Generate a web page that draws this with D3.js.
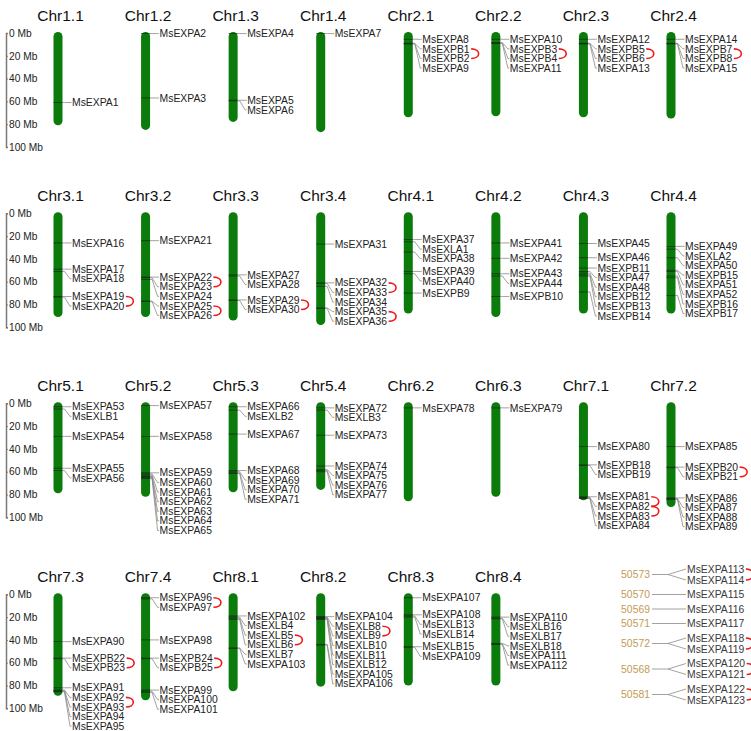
<!DOCTYPE html>
<html>
<head>
<meta charset="utf-8">
<script src="https://cdn.jsdelivr.net/npm/d3@7"></script>
<style>
    body { margin: 0; background: #fff; }
    svg { display: block; font-family: "Liberation Sans", Arial, sans-serif; }
</style>
</head>
<body>
<svg id="chart"></svg>
<script>
// chromosome names and lengths (Mb), 8 per row
const chromNames = [
    "Chr1.1", "Chr1.2", "Chr1.3", "Chr1.4", "Chr2.1", "Chr2.2", "Chr2.3", "Chr2.4",
    "Chr3.1", "Chr3.2", "Chr3.3", "Chr3.4", "Chr4.1", "Chr4.2", "Chr4.3", "Chr4.4",
    "Chr5.1", "Chr5.2", "Chr5.3", "Chr5.4", "Chr6.2", "Chr6.3", "Chr7.1", "Chr7.2",
    "Chr7.3", "Chr7.4", "Chr8.1", "Chr8.2", "Chr8.3", "Chr8.4"
];
const chromLengths = [
    81, 85, 78, 87, 74, 73, 74, 75,
    91, 91, 94, 98, 88, 91, 88, 88,
    79, 82, 78, 76, 86, 82, 85, 91,
    89, 93, 85, 81, 80, 80
];

// [chromosome, gene, position in Mb]
const genes = [
    ["Chr1.1", "MsEXPA1", 61],
    ["Chr1.2", "MsEXPA2", 0.5], ["Chr1.2", "MsEXPA3", 57],
    ["Chr1.3", "MsEXPA4", 0.5], ["Chr1.3", "MsEXPA5", 59], ["Chr1.3", "MsEXPA6", 59.5],
    ["Chr1.4", "MsEXPA7", 0.5],
    ["Chr2.1", "MsEXPA8", 5.5], ["Chr2.1", "MsEXPB1", 9], ["Chr2.1", "MsEXPB2", 9.3], ["Chr2.1", "MsEXPA9", 9.6],
    ["Chr2.2", "MsEXPA10", 5.5], ["Chr2.2", "MsEXPB3", 8.5], ["Chr2.2", "MsEXPB4", 8.8], ["Chr2.2", "MsEXPA11", 9.1],
    ["Chr2.3", "MsEXPA12", 5.5], ["Chr2.3", "MsEXPB5", 9], ["Chr2.3", "MsEXPB6", 9.3], ["Chr2.3", "MsEXPA13", 9.6],
    ["Chr2.4", "MsEXPA14", 5.5], ["Chr2.4", "MsEXPB7", 9], ["Chr2.4", "MsEXPB8", 9.3], ["Chr2.4", "MsEXPA15", 9.6],

    ["Chr3.1", "MsEXPA16", 26], ["Chr3.1", "MsEXPA17", 49], ["Chr3.1", "MsEXPA18", 51],
    ["Chr3.1", "MsEXPA19", 73], ["Chr3.1", "MsEXPA20", 73.5],
    ["Chr3.2", "MsEXPA21", 24], ["Chr3.2", "MsEXPA22", 56], ["Chr3.2", "MsEXPA23", 56.5],
    ["Chr3.2", "MsEXPA24", 58], ["Chr3.2", "MsEXPA25", 77], ["Chr3.2", "MsEXPA26", 77.5],
    ["Chr3.3", "MsEXPA27", 54], ["Chr3.3", "MsEXPA28", 55], ["Chr3.3", "MsEXPA29", 76], ["Chr3.3", "MsEXPA30", 76.5],
    ["Chr3.4", "MsEXPA31", 27], ["Chr3.4", "MsEXPA32", 61], ["Chr3.4", "MsEXPA33", 61.5],
    ["Chr3.4", "MsEXPA34", 64], ["Chr3.4", "MsEXPA35", 83], ["Chr3.4", "MsEXPA36", 83.5],
    ["Chr4.1", "MsEXPA37", 23], ["Chr4.1", "MsEXLA1", 25], ["Chr4.1", "MsEXPA38", 34],
    ["Chr4.1", "MsEXPA39", 51], ["Chr4.1", "MsEXPA40", 53], ["Chr4.1", "MsEXPB9", 70],
    ["Chr4.2", "MsEXPA41", 26], ["Chr4.2", "MsEXPA42", 39.5], ["Chr4.2", "MsEXPA43", 53],
    ["Chr4.2", "MsEXPA44", 55], ["Chr4.2", "MsEXPB10", 73],
    ["Chr4.3", "MsEXPA45", 26.5], ["Chr4.3", "MsEXPA46", 39], ["Chr4.3", "MsEXPB11", 48],
    ["Chr4.3", "MsEXPA47", 51], ["Chr4.3", "MsEXPA48", 52.5], ["Chr4.3", "MsEXPB12", 54],
    ["Chr4.3", "MsEXPB13", 55], ["Chr4.3", "MsEXPB14", 69],
    ["Chr4.4", "MsEXPA49", 29], ["Chr4.4", "MsEXLA2", 31.5], ["Chr4.4", "MsEXPA50", 39],
    ["Chr4.4", "MsEXPB15", 50], ["Chr4.4", "MsEXPA51", 51], ["Chr4.4", "MsEXPA52", 55],
    ["Chr4.4", "MsEXPB16", 56.5], ["Chr4.4", "MsEXPB17", 72],

    ["Chr5.1", "MsEXPA53", 3], ["Chr5.1", "MsEXLB1", 5], ["Chr5.1", "MsEXPA54", 29],
    ["Chr5.1", "MsEXPA55", 57], ["Chr5.1", "MsEXPA56", 59],
    ["Chr5.2", "MsEXPA57", 2], ["Chr5.2", "MsEXPA58", 29], ["Chr5.2", "MsEXPA59", 61],
    ["Chr5.2", "MsEXPA60", 62], ["Chr5.2", "MsEXPA61", 63], ["Chr5.2", "MsEXPA62", 64],
    ["Chr5.2", "MsEXPA63", 64.5], ["Chr5.2", "MsEXPA64", 65], ["Chr5.2", "MsEXPA65", 66],
    ["Chr5.3", "MsEXPA66", 3], ["Chr5.3", "MsEXLB2", 6], ["Chr5.3", "MsEXPA67", 27],
    ["Chr5.3", "MsEXPA68", 59], ["Chr5.3", "MsEXPA69", 60], ["Chr5.3", "MsEXPA70", 61], ["Chr5.3", "MsEXPA71", 61.5],
    ["Chr5.4", "MsEXPA72", 4], ["Chr5.4", "MsEXLB3", 6], ["Chr5.4", "MsEXPA73", 28],
    ["Chr5.4", "MsEXPA74", 55], ["Chr5.4", "MsEXPA75", 58], ["Chr5.4", "MsEXPA76", 59], ["Chr5.4", "MsEXPA77", 60],
    ["Chr6.2", "MsEXPA78", 4],
    ["Chr6.3", "MsEXPA79", 4],
    ["Chr7.1", "MsEXPA80", 38], ["Chr7.1", "MsEXPB18", 54], ["Chr7.1", "MsEXPB19", 54.5],
    ["Chr7.1", "MsEXPA81", 82], ["Chr7.1", "MsEXPA82", 82.5], ["Chr7.1", "MsEXPA83", 83], ["Chr7.1", "MsEXPA84", 83.5],
    ["Chr7.2", "MsEXPA85", 38], ["Chr7.2", "MsEXPB20", 56], ["Chr7.2", "MsEXPB21", 56.5],
    ["Chr7.2", "MsEXPA86", 83], ["Chr7.2", "MsEXPA87", 83.5], ["Chr7.2", "MsEXPA88", 84], ["Chr7.2", "MsEXPA89", 84.5],

    ["Chr7.3", "MsEXPA90", 41.5], ["Chr7.3", "MsEXPB22", 56], ["Chr7.3", "MsEXPB23", 56.5],
    ["Chr7.3", "MsEXPA91", 82], ["Chr7.3", "MsEXPA92", 84], ["Chr7.3", "MsEXPA93", 84.5],
    ["Chr7.3", "MsEXPA94", 85], ["Chr7.3", "MsEXPA95", 85.5],
    ["Chr7.4", "MsEXPA96", 3], ["Chr7.4", "MsEXPA97", 4], ["Chr7.4", "MsEXPA98", 40],
    ["Chr7.4", "MsEXPB24", 56], ["Chr7.4", "MsEXPB25", 56.5], ["Chr7.4", "MsEXPA99", 84],
    ["Chr7.4", "MsEXPA100", 85], ["Chr7.4", "MsEXPA101", 86],
    ["Chr8.1", "MsEXPA102", 19], ["Chr8.1", "MsEXLB4", 20], ["Chr8.1", "MsEXLB5", 21],
    ["Chr8.1", "MsEXLB6", 22], ["Chr8.1", "MsEXLB7", 47], ["Chr8.1", "MsEXPA103", 47.5],
    ["Chr8.2", "MsEXPA104", 19.6], ["Chr8.2", "MsEXLB8", 20], ["Chr8.2", "MsEXLB9", 20.5],
    ["Chr8.2", "MsEXLB10", 21], ["Chr8.2", "MsEXLB11", 21.5], ["Chr8.2", "MsEXLB12", 22],
    ["Chr8.2", "MsEXPA105", 44], ["Chr8.2", "MsEXPA106", 44.5],
    ["Chr8.3", "MsEXPA107", 3], ["Chr8.3", "MsEXPA108", 18], ["Chr8.3", "MsEXLB13", 19],
    ["Chr8.3", "MsEXLB14", 20], ["Chr8.3", "MsEXLB15", 46], ["Chr8.3", "MsEXPA109", 46.5],
    ["Chr8.4", "MsEXPA110", 20], ["Chr8.4", "MsEXLB16", 21], ["Chr8.4", "MsEXLB17", 21.5],
    ["Chr8.4", "MsEXLB18", 43], ["Chr8.4", "MsEXPA111", 43.5], ["Chr8.4", "MsEXPA112", 44]
];

// unplaced scaffolds and the genes on them
const scaffolds = ["50573", "50570", "50569", "50571", "50572", "50568", "50581"];
const scaffoldGenes = [
    ["MsEXPA113", "MsEXPA114"], ["MsEXPA115"], ["MsEXPA116"], ["MsEXPA117"],
    ["MsEXPA118", "MsEXPA119"], ["MsEXPA120", "MsEXPA121"], ["MsEXPA122", "MsEXPA123"]
];

// duplicated gene pairs (red arcs)
const duplicatedPairs = [
    ["MsEXPB1", "MsEXPB2"], ["MsEXPB3", "MsEXPB4"], ["MsEXPB5", "MsEXPB6"], ["MsEXPB7", "MsEXPB8"],
    ["MsEXPA19", "MsEXPA20"], ["MsEXPA22", "MsEXPA23"], ["MsEXPA25", "MsEXPA26"],
    ["MsEXPA29", "MsEXPA30"], ["MsEXPA32", "MsEXPA33"], ["MsEXPA35", "MsEXPA36"],
    ["MsEXPA81", "MsEXPA82"], ["MsEXPA82", "MsEXPA83"], ["MsEXPB20", "MsEXPB21"],
    ["MsEXPB22", "MsEXPB23"], ["MsEXPA92", "MsEXPA93"], ["MsEXPA96", "MsEXPA97"],
    ["MsEXPB24", "MsEXPB25"], ["MsEXLB5", "MsEXLB6"], ["MsEXLB8", "MsEXLB9"],
    ["MsEXPA113", "MsEXPA114"], ["MsEXPA118", "MsEXPA119"], ["MsEXPA120", "MsEXPA121"],
    ["MsEXPA122", "MsEXPA123"]
];

const axisTicks = [0, 20, 40, 60, 80, 100];

// ---- layout ----
const width = 751, height = 731;
const rowTops = [33, 213.3, 403.3, 594.3];
const rowSpan = 114;          // pixels for 100 Mb
const barW = 9;
const labelStep = 9.6;
const labelSize = 10.4;
const barColor = "#0b7b0b";
const lineColor = "#8a8a8a";
const textColor = "#222";

const svg = d3.select("#chart")
    .attr("width", width)
    .attr("height", height);

svg.append("rect").attr("width", width).attr("height", height).attr("fill", "#fff");

const xScale = d3.scaleLinear().domain([0, 7]).range([58, 671]);
const yScales = rowTops.map((t) => d3.scaleLinear().domain([0, 100]).range([t, t + rowSpan]));

// y axis for every row
yScales.forEach((ys) => {
    const g = svg.append("g")
        .attr("transform", "translate(6,0)")
        .call(d3.axisRight(ys)
            .tickValues(axisTicks)
            .tickSize(2)
            .tickPadding(1)
            .tickFormat((d) => `${d} Mb`));
    g.select(".domain").attr("stroke", "#7a7a7a").attr("stroke-width", 1.5);
    g.selectAll(".tick line").attr("stroke", "#7a7a7a");
    g.selectAll(".tick text")
        .attr("fill", textColor)
        .attr("font-size", 10.2)
        .attr("font-family", "Liberation Sans, Arial, sans-serif");
});

const labelPos = {};   // gene name -> {x, y, el}

chromNames.forEach((name, i) => {
    const row = Math.floor(i / 8);
    const cx = xScale(i % 8);
    const ys = yScales[row];
    const g = svg.append("g").attr("class", "chrom");

    g.append("text")
        .attr("x", cx + 2.5)
        .attr("y", ys(0) - 12.5)
        .attr("text-anchor", "middle")
        .attr("font-size", 15.5)
        .attr("fill", "#111")
        .text(name);

    g.append("rect")
        .attr("x", cx - barW / 2)
        .attr("y", ys(0) - 1)
        .attr("width", barW)
        .attr("height", ys(chromLengths[i]) - ys(0) + 1)
        .attr("rx", barW / 2)
        .attr("fill", barColor);

    const items = genes.filter((d) => d[0] === name)
        .map((d) => ({ name: d[1], gy: ys(d[2]) }))
        .sort((a, b) => a.gy - b.gy);

    // labels pushed downward when they would overlap
    let prev = -Infinity;
    items.forEach((d) => {
        d.ly = Math.max(d.gy, prev + labelStep);
        prev = d.ly;
    });

    g.selectAll(".gene-tick")
        .data(items)
        .join("line")
        .attr("class", "gene-tick")
        .attr("x1", cx - barW / 2).attr("x2", cx + barW / 2)
        .attr("y1", (d) => d.gy).attr("y2", (d) => d.gy)
        .attr("stroke", "#1a1a1a")
        .attr("stroke-width", 0.7)
        .attr("opacity", 0.85);

    g.selectAll(".connector")
        .data(items)
        .join("path")
        .attr("class", "connector")
        .attr("d", (d) => `M${cx + barW / 2},${d.gy}H${cx + 6.5}L${cx + 12},${d.ly}H${cx + 13.5}`)
        .attr("fill", "none")
        .attr("stroke", lineColor)
        .attr("stroke-width", 0.8);

    g.selectAll(".gene-label")
        .data(items)
        .join("text")
        .attr("class", "gene-label")
        .attr("x", cx + 14)
        .attr("y", (d) => d.ly)
        .attr("dy", "0.35em")
        .attr("font-size", labelSize)
        .attr("fill", textColor)
        .text((d) => d.name)
        .each(function (d) { labelPos[d.name] = { x: cx + 14, y: d.ly, el: this }; });
});

// unplaced scaffolds, bottom right
const scafRight = 650, branchX = 668, scafLabelX = 687;
let sy = 569;
scaffolds.forEach((s, i) => {
    const names = scaffoldGenes[i];
    const ly = names.map((n, j) => sy + j * 11);
    sy = ly[ly.length - 1] + 14.5;
    const my = d3.mean(ly);
    const g = svg.append("g").attr("class", "scaffold");

    g.append("text")
        .attr("x", scafRight)
        .attr("y", my)
        .attr("dy", "0.35em")
        .attr("text-anchor", "end")
        .attr("font-size", labelSize)
        .attr("fill", "#c49b55")
        .text(s);

    g.append("line")
        .attr("x1", scafRight + 2).attr("x2", branchX)
        .attr("y1", my).attr("y2", my)
        .attr("stroke", lineColor).attr("stroke-width", 0.8);

    g.selectAll("path")
        .data(ly)
        .join("path")
        .attr("d", (y) => `M${branchX},${my}L${scafLabelX - 1},${y}`)
        .attr("stroke", lineColor).attr("stroke-width", 0.8).attr("fill", "none");

    g.selectAll("text.gene-label")
        .data(names)
        .join("text")
        .attr("class", "gene-label")
        .attr("x", scafLabelX)
        .attr("y", (n, j) => ly[j])
        .attr("dy", "0.35em")
        .attr("font-size", labelSize)
        .attr("fill", "#3a3a3a")
        .text((n) => n)
        .each(function (n, j) { labelPos[n] = { x: scafLabelX, y: ly[j], el: this }; });
});

// red arcs joining duplicated pairs
svg.append("g")
    .selectAll("path")
    .data(duplicatedPairs)
    .join("path")
    .attr("d", ([a, b]) => {
        const p = labelPos[a], q = labelPos[b];
        const x = Math.max(p.x + p.el.getComputedTextLength(), q.x + q.el.getComputedTextLength()) + 1.5;
        return `M${x},${p.y}C${x + 10},${p.y} ${x + 10},${q.y} ${x},${q.y}`;
    })
    .attr("fill", "none")
    .attr("stroke", "#f01818")
    .attr("stroke-width", 1.6);
</script>
</body>
</html>
